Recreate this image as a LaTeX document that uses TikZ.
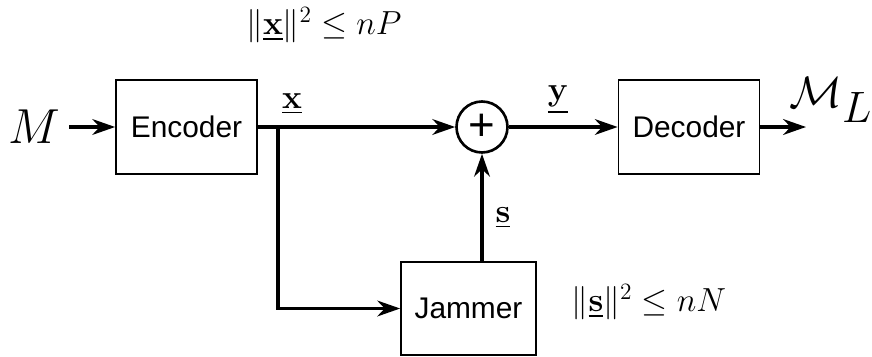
\RequirePackage{fix-cm}
\documentclass[tikz,border=0pt]{standalone}
\usepackage{amsmath,amssymb}
\usepackage[no-math]{fontspec}
\setmainfont{Liberation Sans}
\usetikzlibrary{arrows.meta,calc,positioning}

\begin{document}
\begin{tikzpicture}[
  x=0.02cm,y=0.02cm,
  blk/.style={draw,line width=1pt,minimum width=2.82cm,minimum height=1.88cm,font=\fontsize{17}{20}\selectfont},
  adder/.style={circle,draw,line width=1.5pt,minimum size=1.02cm,inner sep=0pt,font=\fontsize{26}{26}\selectfont},
  sig/.style={-{Stealth[length=13pt,width=9pt]},line width=1.8pt},
  lbl/.style={inner sep=0pt,font=\fontsize{19}{22}\selectfont}
]
\useasboundingbox (0,0) rectangle (872,356);
% Blocks
\node[lbl,inner sep=5pt,font=\fontsize{28}{32}\selectfont] (msg) at (34,229) {$M$};
\node[blk] (enc) at (186.5,229) {Encoder};
\node[adder] (add) at (482,229) {+};
\node[blk] (dec) at (689,229) {Decoder};
\node[blk,minimum width=2.7cm,minimum height=1.86cm] (jam) at (468.5,47.5) {Jammer};
\coordinate (split) at (278,229);
\coordinate (out) at (806,229);
% Labels
\node[lbl,anchor=west,font=\fontsize{25}{28}\selectfont] (lst) at (789,256) {$\mathcal{M}_{\textstyle L}$};
\node[lbl] (xlbl) at (292,252) {$\underline{\mathbf{x}}$};
\node[lbl] (ylbl) at (558,256) {$\underline{\mathbf{y}}$};
\node[lbl] (slbl) at (503,138) {$\underline{\mathbf{s}}$};
\node[lbl] (xpow) at (324,331) {$\|\underline{\mathbf{x}}\|^2 \leq nP$};
\node[lbl] (spow) at (649,54) {$\|\underline{\mathbf{s}}\|^2 \leq nN$};
% Signals
\draw[sig] (msg) -- (enc);
\draw[sig] (enc) -- (add);
\draw[sig] (split) |- (jam.west);
\draw[sig] (add |- jam.north) -- (add);
\draw[sig] (add) -- (dec);
\draw[sig] (dec) -- (out);
\end{tikzpicture}
\end{document}
